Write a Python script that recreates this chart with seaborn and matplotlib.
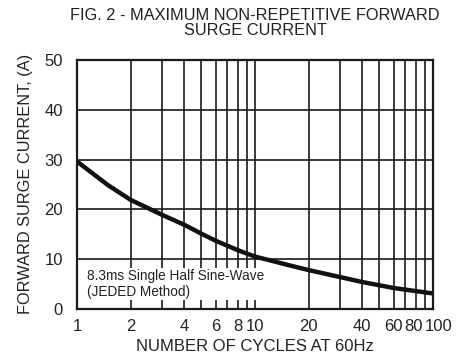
import pandas as pd
import seaborn as sns
import matplotlib.pyplot as plt
import matplotlib.transforms as mtransforms
from matplotlib.ticker import FixedLocator, NullFormatter

# values
cycles = [1, 1.5, 2, 3, 4, 5, 6, 8, 10, 12, 15, 20, 30, 40, 60, 100]
surge_current = [29.6, 24.8, 21.9, 18.9, 16.9, 15.1, 13.7, 11.8, 10.5, 9.8, 8.9, 7.8, 6.4, 5.4, 4.2, 3.1]

xtick_values = [1, 2, 4, 6, 8, 10, 20, 40, 60, 80, 100]
xtick_labels = ["1", "2", "4", "6", "8", "10", "20", "40", "60", "80", "100"]
xgrid_values = [1, 2, 3, 4, 5, 6, 7, 8, 9, 10, 20, 30, 40, 50, 60, 70, 80, 90, 100]
ytick_values = [0, 10, 20, 30, 40, 50]

df = pd.DataFrame({"cycles": cycles, "current": surge_current})

sns.set_style("white")
plt.rcParams["font.family"] = ["Liberation Sans", "DejaVu Sans"]
TXT = "#222222"
LINE = "#1a1a1a"

fig = plt.figure(figsize=(4.57, 3.63), dpi=100)
ax = fig.add_axes([0.1685, 0.149, 0.779, 0.686])

sns.lineplot(data=df, x="cycles", y="current", ax=ax, color="#111111", linewidth=3.2)

ax.set_xscale("log")
ax.set_xlim(1, 100)
ax.set_ylim(0, 50)

ax.xaxis.set_major_locator(FixedLocator(xtick_values))
ax.set_xticklabels(xtick_labels)
ax.xaxis.set_minor_locator(FixedLocator(xgrid_values))
ax.xaxis.set_minor_formatter(NullFormatter())
ax.set_yticks(ytick_values)

ax.grid(True, which="both", axis="x", color=LINE, linewidth=1.2)
ax.grid(True, which="major", axis="y", color=LINE, linewidth=1.2)
ax.tick_params(axis="both", which="both", length=0, labelsize=12, colors=TXT)
ax.tick_params(axis="x", pad=7)
ax.tick_params(axis="y", pad=10)

# the last labels are nudged apart, as in the reference
labels = ax.get_xticklabels()
for lab, dx in ((labels[-2], -2), (labels[-1], 6)):
    lab.set_transform(lab.get_transform() + mtransforms.ScaledTranslation(dx / 100, 0, fig.dpi_scale_trans))

for s in ax.spines.values():
    s.set_color(LINE)
    s.set_linewidth(1.6)

ax.set_xlabel("NUMBER OF CYCLES AT 60Hz", fontsize=12, color=TXT, labelpad=4)
ax.set_ylabel("FORWARD SURGE CURRENT, (A)", fontsize=11.8, color=TXT, labelpad=8)
ax.set_title("FIG. 2 - MAXIMUM NON-REPETITIVE FORWARD\nSURGE CURRENT",
             fontsize=11.8, color=TXT, linespacing=0.95, pad=18)

ax.text(0.028, 0.10, "8.3ms Single Half Sine-Wave\n(JEDED Method)", transform=ax.transAxes,
        fontsize=9.8, color=TXT, va="center", ha="left", linespacing=1.1,
        bbox=dict(facecolor="white", edgecolor="none", pad=1.0))

plt.savefig("out.png", dpi=100)
